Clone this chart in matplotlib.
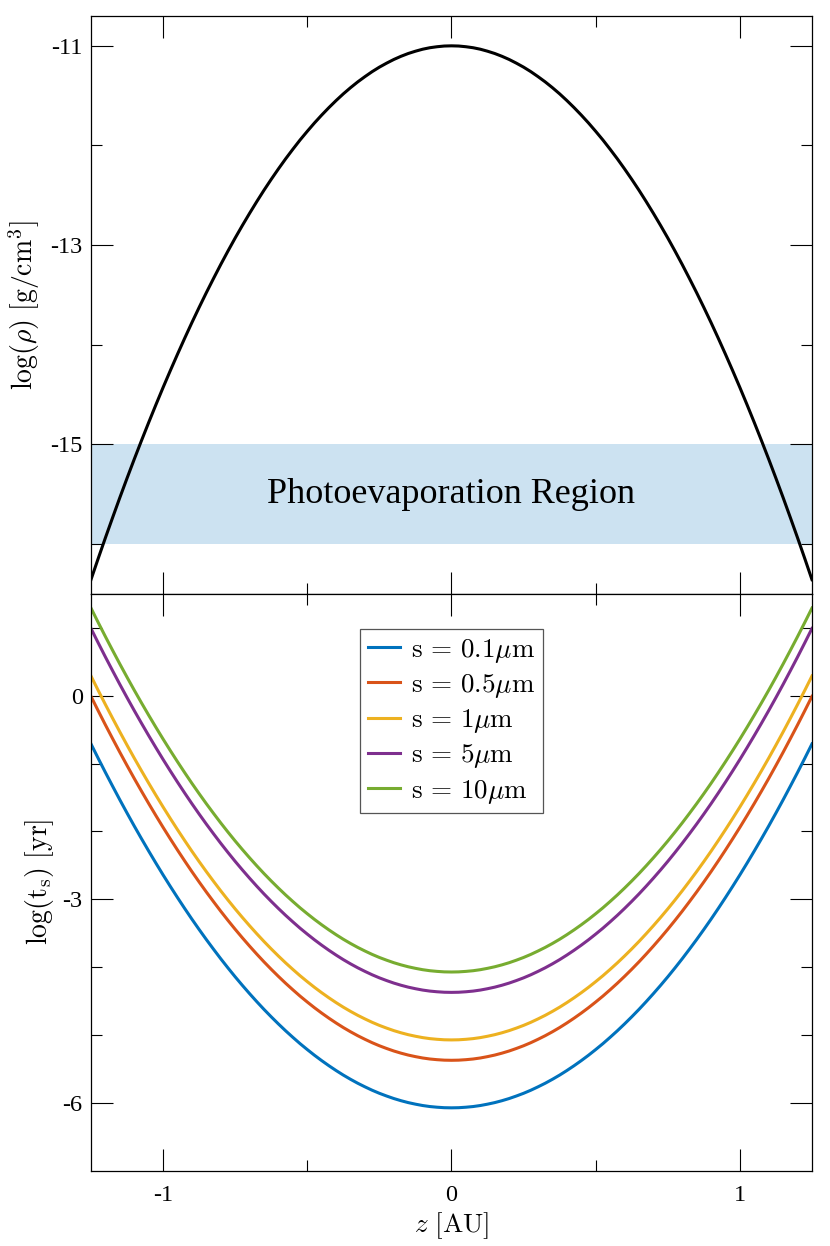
import matplotlib
matplotlib.use("Agg")
import matplotlib.pyplot as plt
import numpy as np

plt.rcParams["font.family"] = ["Liberation Serif", "DejaVu Serif"]
plt.rcParams["mathtext.fontset"] = "cm"

# Hauteur z [AU] (grille d'échantillonnage de la lecture)
z = np.linspace(-1.25, 1.25, 101)

# Densité du gaz log(rho)
log_rho = [
    -16.359, -16.147, -15.939, -15.736, -15.536, -15.341, -15.150, -14.964, -14.782, -14.604,
    -14.430, -14.261, -14.096, -13.935, -13.778, -13.626, -13.478, -13.335, -13.195, -13.060,
    -12.929, -12.803, -12.681, -12.563, -12.449, -12.340, -12.235, -12.134, -12.038, -11.945,
    -11.858, -11.774, -11.695, -11.620, -11.549, -11.482, -11.420, -11.362, -11.309, -11.259,
    -11.214, -11.174, -11.137, -11.105, -11.077, -11.054, -11.034, -11.019, -11.009, -11.002,
    -11.000,
    -11.002, -11.009, -11.019, -11.034, -11.054, -11.077, -11.105, -11.137, -11.174, -11.214,
    -11.259, -11.309, -11.362, -11.420, -11.482, -11.549, -11.620, -11.695, -11.774, -11.858,
    -11.945, -12.038, -12.134, -12.235, -12.340, -12.449, -12.563, -12.681, -12.803, -12.929,
    -13.060, -13.195, -13.335, -13.478, -13.626, -13.778, -13.935, -14.096, -14.261, -14.430,
    -14.604, -14.782, -14.964, -15.150, -15.341, -15.536, -15.736, -15.939, -16.147, -16.359]

# Région de photoévaporation
photo_band = (-16.0, -15.0)

# Temps d'arrêt log(t_s) pour chaque taille de grain
sizes = ["0.1", "0.5", "1", "5", "10"]
ts_01 = [
    -0.711, -0.923, -1.131, -1.334, -1.534, -1.729, -1.920, -2.106, -2.288, -2.466,
    -2.640, -2.809, -2.974, -3.135, -3.292, -3.444, -3.592, -3.735, -3.875, -4.010,
    -4.141, -4.267, -4.389, -4.507, -4.621, -4.730, -4.835, -4.936, -5.032, -5.125,
    -5.212, -5.296, -5.375, -5.450, -5.521, -5.588, -5.650, -5.708, -5.761, -5.811,
    -5.856, -5.896, -5.933, -5.965, -5.993, -6.016, -6.036, -6.051, -6.061, -6.068,
    -6.070,
    -6.068, -6.061, -6.051, -6.036, -6.016, -5.993, -5.965, -5.933, -5.896, -5.856,
    -5.811, -5.761, -5.708, -5.650, -5.588, -5.521, -5.450, -5.375, -5.296, -5.212,
    -5.125, -5.032, -4.936, -4.835, -4.730, -4.621, -4.507, -4.389, -4.267, -4.141,
    -4.010, -3.875, -3.735, -3.592, -3.444, -3.292, -3.135, -2.974, -2.809, -2.640,
    -2.466, -2.288, -2.106, -1.920, -1.729, -1.534, -1.334, -1.131, -0.923, -0.711]
ts_05 = [
    -0.011, -0.223, -0.431, -0.634, -0.834, -1.029, -1.220, -1.406, -1.588, -1.766,
    -1.940, -2.109, -2.274, -2.435, -2.592, -2.744, -2.892, -3.035, -3.175, -3.310,
    -3.441, -3.567, -3.689, -3.807, -3.921, -4.030, -4.135, -4.236, -4.332, -4.425,
    -4.512, -4.596, -4.675, -4.750, -4.821, -4.888, -4.950, -5.008, -5.061, -5.111,
    -5.156, -5.196, -5.233, -5.265, -5.293, -5.316, -5.336, -5.351, -5.361, -5.368,
    -5.370,
    -5.368, -5.361, -5.351, -5.336, -5.316, -5.293, -5.265, -5.233, -5.196, -5.156,
    -5.111, -5.061, -5.008, -4.950, -4.888, -4.821, -4.750, -4.675, -4.596, -4.512,
    -4.425, -4.332, -4.236, -4.135, -4.030, -3.921, -3.807, -3.689, -3.567, -3.441,
    -3.310, -3.175, -3.035, -2.892, -2.744, -2.592, -2.435, -2.274, -2.109, -1.940,
    -1.766, -1.588, -1.406, -1.220, -1.029, -0.834, -0.634, -0.431, -0.223, -0.011]
ts_1 = [
    0.289, 0.077, -0.131, -0.334, -0.534, -0.729, -0.920, -1.106, -1.288, -1.466,
    -1.640, -1.809, -1.974, -2.135, -2.292, -2.444, -2.592, -2.735, -2.875, -3.010,
    -3.141, -3.267, -3.389, -3.507, -3.621, -3.730, -3.835, -3.936, -4.032, -4.125,
    -4.212, -4.296, -4.375, -4.450, -4.521, -4.588, -4.650, -4.708, -4.761, -4.811,
    -4.856, -4.896, -4.933, -4.965, -4.993, -5.016, -5.036, -5.051, -5.061, -5.068,
    -5.070,
    -5.068, -5.061, -5.051, -5.036, -5.016, -4.993, -4.965, -4.933, -4.896, -4.856,
    -4.811, -4.761, -4.708, -4.650, -4.588, -4.521, -4.450, -4.375, -4.296, -4.212,
    -4.125, -4.032, -3.936, -3.835, -3.730, -3.621, -3.507, -3.389, -3.267, -3.141,
    -3.010, -2.875, -2.735, -2.592, -2.444, -2.292, -2.135, -1.974, -1.809, -1.640,
    -1.466, -1.288, -1.106, -0.920, -0.729, -0.534, -0.334, -0.131, 0.077, 0.289]
ts_5 = [
    0.989, 0.777, 0.569, 0.366, 0.166, -0.029, -0.220, -0.406, -0.588, -0.766,
    -0.940, -1.109, -1.274, -1.435, -1.592, -1.744, -1.892, -2.035, -2.175, -2.310,
    -2.441, -2.567, -2.689, -2.807, -2.921, -3.030, -3.135, -3.236, -3.332, -3.425,
    -3.512, -3.596, -3.675, -3.750, -3.821, -3.888, -3.950, -4.008, -4.061, -4.111,
    -4.156, -4.196, -4.233, -4.265, -4.293, -4.316, -4.336, -4.351, -4.361, -4.368,
    -4.370,
    -4.368, -4.361, -4.351, -4.336, -4.316, -4.293, -4.265, -4.233, -4.196, -4.156,
    -4.111, -4.061, -4.008, -3.950, -3.888, -3.821, -3.750, -3.675, -3.596, -3.512,
    -3.425, -3.332, -3.236, -3.135, -3.030, -2.921, -2.807, -2.689, -2.567, -2.441,
    -2.310, -2.175, -2.035, -1.892, -1.744, -1.592, -1.435, -1.274, -1.109, -0.940,
    -0.766, -0.588, -0.406, -0.220, -0.029, 0.166, 0.366, 0.569, 0.777, 0.989]
ts_10 = [
    1.289, 1.077, 0.869, 0.666, 0.466, 0.271, 0.080, -0.106, -0.288, -0.466,
    -0.640, -0.809, -0.974, -1.135, -1.292, -1.444, -1.592, -1.735, -1.875, -2.010,
    -2.141, -2.267, -2.389, -2.507, -2.621, -2.730, -2.835, -2.936, -3.032, -3.125,
    -3.212, -3.296, -3.375, -3.450, -3.521, -3.588, -3.650, -3.708, -3.761, -3.811,
    -3.856, -3.896, -3.933, -3.965, -3.993, -4.016, -4.036, -4.051, -4.061, -4.068,
    -4.070,
    -4.068, -4.061, -4.051, -4.036, -4.016, -3.993, -3.965, -3.933, -3.896, -3.856,
    -3.811, -3.761, -3.708, -3.650, -3.588, -3.521, -3.450, -3.375, -3.296, -3.212,
    -3.125, -3.032, -2.936, -2.835, -2.730, -2.621, -2.507, -2.389, -2.267, -2.141,
    -2.010, -1.875, -1.735, -1.592, -1.444, -1.292, -1.135, -0.974, -0.809, -0.640,
    -0.466, -0.288, -0.106, 0.080, 0.271, 0.466, 0.666, 0.869, 1.077, 1.289]
ts_series = [ts_01, ts_05, ts_1, ts_5, ts_10]
colors = ["#0072BD", "#D95319", "#EDB120", "#7E2F8E", "#77AC30"]


def style_axis(ax, xlabels=True):
    ax.tick_params(which="both", direction="in", top=True, right=True,
                   width=0.8, labelsize=17.5)
    ax.tick_params(which="major", length=15.8)
    ax.tick_params(which="minor", length=7.9)
    ax.tick_params(axis="y", pad=6)
    ax.tick_params(axis="x", pad=10, labelbottom=xlabels)
    for sp in ax.spines.values():
        sp.set_linewidth(0.9)


fig = plt.figure(figsize=(8.30, 12.46), dpi=100)
left, width = 0.1096, 0.8687
ax1 = fig.add_axes([left, 0.5235, width, 0.4637])
ax2 = fig.add_axes([left, 0.0602, width, 0.4633], sharex=ax1)

# Panneau du haut : densité
ax1.axhspan(photo_band[0], photo_band[1], facecolor="#0072BD", alpha=0.2,
            linewidth=0, zorder=1)
ax1.plot(z, log_rho, color="black", linewidth=2.2, zorder=3)
ax1.text(0, (photo_band[0] + photo_band[1]) / 2, "Photoevaporation Region",
         ha="center", va="center", fontsize=26)
ax1.set_xlim(-1.25, 1.25)
ax1.set_ylim(-16.5, -10.7)
ax1.set_yticks([-15, -13, -11])
ax1.set_yticklabels(["-15", "-13", "-11"])
ax1.set_yticks([-16, -14, -12], minor=True)
ax1.set_ylabel(r"$\mathrm{log}(\rho)\ [\mathrm{g/cm}^3]$", fontsize=20, labelpad=6)
style_axis(ax1, xlabels=False)

# Panneau du bas : temps d'arrêt
for s, ts, c in zip(sizes, ts_series, colors):
    ax2.plot(z, ts, color=c, linewidth=2.2,
             label=r"$\mathrm{s}\,=\,%s\mu\mathrm{m}$" % s)
ax2.set_ylim(-7, 1.5)
ax2.set_yticks([-6, -3, 0])
ax2.set_yticklabels(["-6", "-3", "0"])
ax2.set_yticks([-5, -4, -2, -1, 1], minor=True)
ax2.set_xticks([-1, 0, 1])
ax2.set_xticklabels(["-1", "0", "1"])
ax2.set_xticks([-0.5, 0.5], minor=True)
ax2.set_xlabel(r"$z\ [\mathrm{AU}]$", fontsize=19.5, labelpad=3)
ax2.set_ylabel(r"$\mathrm{log}(\mathrm{t_s})\ [\mathrm{yr}]$", fontsize=20, labelpad=5)
style_axis(ax2)

leg = ax2.legend(loc="upper center", fontsize=19.5, frameon=True, fancybox=False,
                 framealpha=1, edgecolor="#555555", handlelength=1.2,
                 handletextpad=0.4, labelspacing=0.27, borderaxespad=1.3,
                 borderpad=0.28)
leg.get_frame().set_linewidth(0.9)

fig.savefig("out.png", dpi=100)
